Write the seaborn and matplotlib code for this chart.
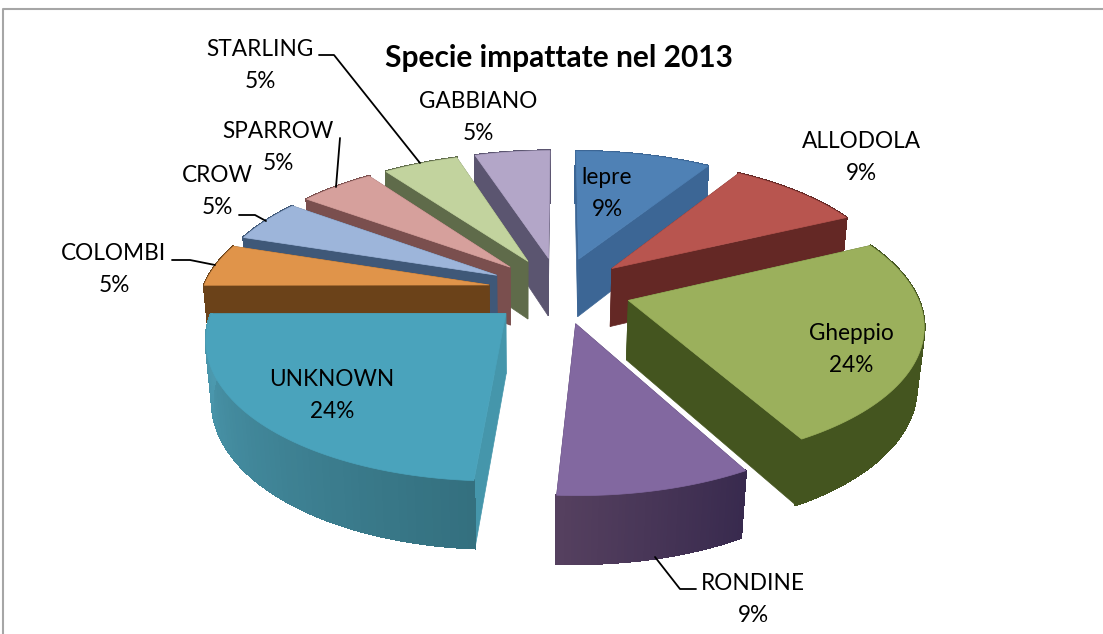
import numpy as np
import seaborn as sns
import matplotlib.pyplot as plt
from matplotlib.colors import to_rgb

sns.set_theme(style="white")
plt.rcParams['font.family'] = ['Lato', 'DejaVu Sans']

species = ["lepre", "ALLODOLA", "Gheppio", "RONDINE", "UNKNOWN", "COLOMBI", "CROW", "SPARROW", "STARLING", "GABBIANO"]
values = [9, 9, 24, 9, 24, 5, 5, 5, 5, 5]
top_colors = sns.color_palette(["#4f81b5", "#b8554f", "#9bb05c", "#8268a0", "#4aa3bc", "#e0944a", "#9db5da", "#d6a09c", "#c2d39e", "#b3a6c8"])
side_colors = ["#3c6695", "#642825", "#44551f", "#4a3a60", "#4596ab", "#6b4219", "#3f5878", "#7a4f4e", "#5f6b4a", "#5b5570"]
arc_start = ["#3c6695", "#642825", "#44551f", "#382a4e", "#34707f", "#6b4219", "#3f5878", "#7a4f4e", "#5f6b4a", "#5b5570"]
arc_end = ["#3c6695", "#642825", "#44551f", "#55405f", "#4c9ab0", "#6b4219", "#3f5878", "#7a4f4e", "#5f6b4a", "#5b5570"]

# camera of the 3d pie (world x, y, z to pixels) and how far slices are pulled out
cam = [286.79, 86.652, -9.8763, 559.43, -0.31323, -88.437, -65.617, 290.05, -7.5187e-05, 0.1551, -0.018847]
explode = 0.2495

edges = np.concatenate([[0], np.cumsum(values)]) * 3.6


def project(p, x, y, z):
    u = p[0] * x + p[1] * y + p[2] * z + p[3]
    v = p[4] * x + p[5] * y + p[6] * z + p[7]
    w = p[8] * x + p[9] * y + p[10] * z + 1
    return u / w, v / w


fig = plt.figure(figsize=(11.03, 6.34), dpi=100)
ax = fig.add_axes([0, 0, 1, 1])
ax.set_xlim(0, 1103)
ax.set_ylim(634, 0)
ax.axis("off")

# slices, far ones first
mids = (edges[:-1] + edges[1:]) / 2
for i in np.argsort(-np.cos(np.radians(mids))):
    t0, t1 = np.radians(edges[i]), np.radians(edges[i + 1])
    m = np.radians(mids[i])
    ox, oy = explode * np.sin(m), explode * np.cos(m)
    ts = np.linspace(t0, t1, 60)
    ux, uy = project(cam, ox + np.sin(ts), oy + np.cos(ts), 0)
    lx, ly = project(cam, ox + np.sin(ts), oy + np.cos(ts), -1)
    ax_, ay_ = project(cam, ox, oy, 0)
    bx_, by_ = project(cam, ox, oy, -1)
    # radial walls
    for j in (0, -1):
        ax.fill([ax_, ux[j], lx[j], bx_], [ay_, uy[j], ly[j], by_], color=side_colors[i], lw=0.5)
    # outer wall with a shade running along it
    c0, c1 = np.array(to_rgb(arc_start[i])), np.array(to_rgb(arc_end[i]))
    for j in range(len(ts) - 1):
        f = j / (len(ts) - 2)
        ax.fill([ux[j], ux[j + 1], lx[j + 1], lx[j]], [uy[j], uy[j + 1], ly[j + 1], ly[j]],
                color=c0 + (c1 - c0) * f, lw=1.2, antialiased=False)
    ax.fill(np.r_[ax_, ux], np.r_[ay_, uy], color=top_colors[i], lw=0.5)

# frame
ax.plot([3, 3, 1103], [634, 9, 9], color="#a6a6a6", lw=1.5)

ax.text(559, 58, "Specie impattate nel 2013", fontsize=21.5, fontweight="bold", ha="center", va="center", color="black")

label_x = [607, 861, 851, 753, 332, 114, 217, 278, 260, 478]
label_y = [177, 142, 333, 584, 379, 254, 176, 132, 50, 102]
for name, v, x, y in zip(species, values, label_x, label_y):
    ax.text(x, y, name, fontsize=16.3, ha="center", va="center", color="black")
    ax.text(x, y + 32, f"{v}%", fontsize=16.3, ha="center", va="center", color="black")

leaders = [([319, 334, 420], [55, 55, 163]), ([340, 336], [138, 187]), ([239, 255, 266], [215, 215, 221]),
           ([172, 190, 215], [260, 260, 265]), ([655, 680, 696], [557, 589, 589])]
for lx_, ly_ in leaders:
    ax.plot(lx_, ly_, color="black", lw=1.3)

fig.savefig("out.png", dpi=100)
